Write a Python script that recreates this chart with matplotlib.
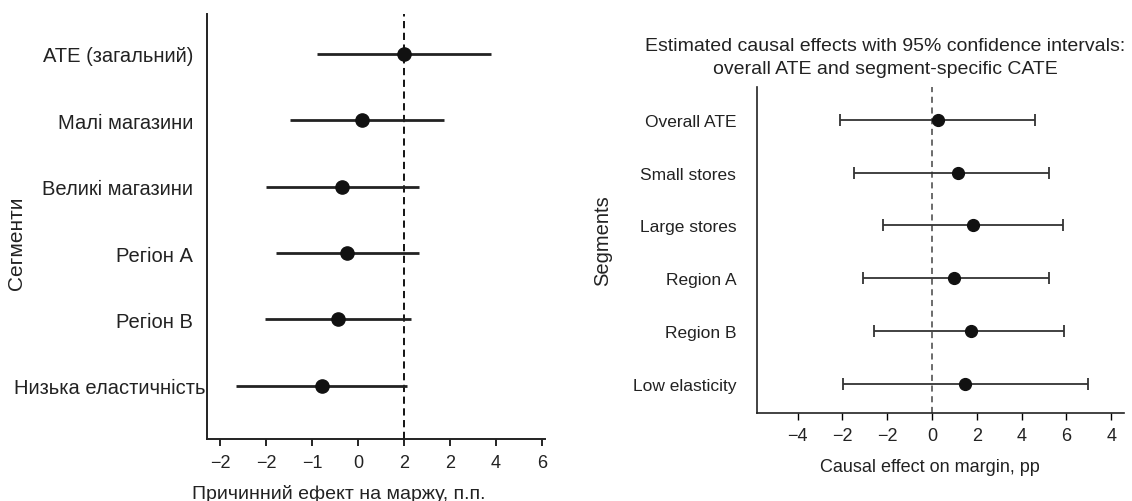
import matplotlib
matplotlib.use("Agg")
import matplotlib.pyplot as plt
import matplotlib.transforms as mtrans

plt.rcParams['font.family'] = ['Liberation Sans', 'DejaVu Sans']

# ---------------- data: left panel (Ukrainian) ----------------
left_segments = ["АТЕ (загальний)", "Малі магазини", "Великі магазини",
                 "Регіон А", "Регіон В", "Низька еластичність"]
left_effect = [0.00, -0.92, -1.35, -1.24, -1.44, -1.79]
left_lo = [-1.90, -2.48, -3.01, -2.79, -3.03, -3.66]
left_hi = [1.90, 0.87, 0.33, 0.33, 0.15, 0.07]
left_ticks = [-4, -3, -2, -1, 0, 1, 2, 3]
left_ticklabels = ["−2", "−2", "−1", "0", "2", "2", "4", "6"]
left_ref = 0.0

# ---------------- data: right panel (English) ----------------
right_segments = ["Overall ATE", "Small stores", "Large stores",
                  "Region A", "Region B", "Low elasticity"]
right_effect = [0.25, 1.16, 1.83, 0.98, 1.74, 1.47]
right_lo = [-4.10, -3.46, -2.19, -3.08, -2.59, -3.98]
right_hi = [4.60, 5.22, 5.85, 5.22, 5.89, 6.96]
right_ticks = [-6, -4, -2, 0, 2, 4, 6, 8]
right_ticklabels = ["−4", "−2", "−2", "0", "2", "4", "6", "4"]
right_ref = 0.0

fig = plt.figure(figsize=(11.32, 5.02), dpi=100)

# ---------------- left panel ----------------
axL = fig.add_axes([0.1829, 0.1235, 0.2986, 0.8466])
yl = list(range(len(left_segments)))
xerrL = [[e - lo for e, lo in zip(left_effect, left_lo)],
         [hi - e for e, hi in zip(left_effect, left_hi)]]
axL.axvline(left_ref, color="black", lw=1.3, ls=(0, (4, 2.5)), zorder=1)
axL.errorbar(left_effect, yl, xerr=xerrL, fmt="o", color="#111111",
             ecolor="#222222", elinewidth=2.0, capsize=0, markersize=9.5, zorder=3)
axL.set_xlim(-4.29, 3.07)
axL.set_ylim(5.8, -0.6)
axL.set_yticks(yl)
axL.set_yticklabels(left_segments, fontsize=14.5, color="#222222")
axL.set_xticks(left_ticks)
axL.set_xticklabels(left_ticklabels, fontsize=13, color="#222222")
axL.tick_params(axis="y", length=0, pad=10)
axL.tick_params(axis="x", length=5, width=1.2, pad=6, direction="out")
for s in ["top", "right"]:
    axL.spines[s].set_visible(False)
for s in ["left", "bottom"]:
    axL.spines[s].set_linewidth(1.4)
    axL.spines[s].set_color("#222222")
axL.set_xlabel("Причинний ефект на маржу, п.п.", fontsize=14, color="#222222")
axL.xaxis.set_label_coords(0.39, -0.105)
axL.set_ylabel("Сегменти", fontsize=15, color="#222222")
axL.yaxis.set_label_coords(-0.535, 0.4635)
# the longest label sits closer to the spine in the reference
_lab = axL.get_yticklabels()[-1]
_lab.set_transform(_lab.get_transform() +
                   mtrans.ScaledTranslation(12 / 100, 0, fig.dpi_scale_trans))

# ---------------- right panel ----------------
axR = fig.add_axes([0.6687, 0.1753, 0.3242, 0.6494])
yr = list(range(len(right_segments)))
xerrR = [[e - lo for e, lo in zip(right_effect, right_lo)],
         [hi - e for e, hi in zip(right_effect, right_hi)]]
axR.axvline(right_ref, color="#444444", lw=1.1, ls=(0, (4, 3)), zorder=1)
axR.errorbar(right_effect, yr, xerr=xerrR, fmt="o", color="#111111",
             ecolor="#333333", elinewidth=1.3, capsize=4, capthick=1.3,
             markersize=8.5, zorder=3)
axR.set_xlim(-7.81, 8.57)
axR.set_ylim(5.55, -0.62)
axR.set_yticks(yr)
axR.set_yticklabels(right_segments, fontsize=12.5, color="#222222")
axR.set_xticks(right_ticks)
axR.set_xticklabels(right_ticklabels, fontsize=13, color="#222222")
axR.tick_params(axis="y", length=0, pad=15)
axR.tick_params(axis="x", length=5, width=1.0, pad=5, direction="out")
for s in ["top", "right"]:
    axR.spines[s].set_visible(False)
for s in ["left", "bottom"]:
    axR.spines[s].set_linewidth(1.2)
    axR.spines[s].set_color("#222222")
axR.set_xlabel("Causal effect on margin, pp", fontsize=13, color="#222222")
axR.xaxis.set_label_coords(0.471, -0.138)
axR.set_ylabel("Segments", fontsize=14.5, color="#222222")
axR.yaxis.set_label_coords(-0.395, 0.531)
axR.set_title("Estimated causal effects with 95% confidence intervals:\n"
              "overall ATE and segment-specific CATE",
              fontsize=14, color="#222222", x=0.350, y=1.043, pad=0,
              linespacing=1.43)

fig.savefig("out.png", dpi=100)
